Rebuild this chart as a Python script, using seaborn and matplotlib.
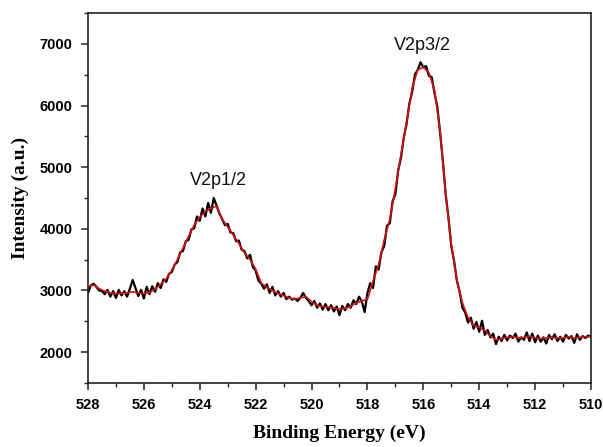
import numpy as np
import pandas as pd
import matplotlib
matplotlib.use("Agg")
import matplotlib.pyplot as plt
from matplotlib.ticker import MultipleLocator
import seaborn as sns

# V 2p core-level spectrum: raw counts (0.1 eV step) and fitted envelope (0.2 eV step)
raw_start, raw_stop, raw_step = 528.0, 510.0, 0.1
fit_start, fit_stop, fit_step = 528.0, 510.0, 0.2

raw_counts = [
    2960, 3080, 3110, 3060, 3000, 2990, 2940, 3010, 2900, 2990,
    2880, 3010, 2920, 2990, 2900, 3030, 3170, 3040, 2910, 3010,
    2870, 3060, 2940, 3070, 2980, 3120, 3040, 3180, 3140, 3270,
    3300, 3420, 3460, 3620, 3640, 3800, 3820, 3990, 4010, 4200,
    4130, 4330, 4200, 4420, 4260, 4500, 4380, 4250, 4160, 4060,
    4080, 3940, 3930, 3800, 3810, 3660, 3640, 3520, 3580, 3380,
    3320, 3160, 3110, 3030, 3100, 2960, 3060, 2920, 2990, 2900,
    2960, 2860, 2900, 2850, 2870, 2830, 2880, 2960, 2880, 2830,
    2760, 2830, 2720, 2790, 2690, 2780, 2680, 2760, 2660, 2740,
    2600, 2750, 2680, 2780, 2720, 2840, 2780, 2900, 2820, 2650,
    2960, 3120, 3040, 3390, 3340, 3620, 3720, 4050, 4090, 4450,
    4560, 4950, 5150, 5480, 5700, 6030, 6220, 6500, 6580, 6700,
    6620, 6640, 6480, 6460, 6200, 5980, 5560, 5100, 4560, 4180,
    3720, 3480, 3160, 2980, 2720, 2640, 2480, 2560, 2380, 2490,
    2330, 2510, 2280, 2360, 2240, 2300, 2130, 2250, 2180, 2280,
    2190, 2270, 2230, 2300, 2170, 2240, 2200, 2320, 2180, 2300,
    2160, 2270, 2170, 2240, 2140, 2280, 2210, 2290, 2180, 2250,
    2170, 2280, 2220, 2260, 2150, 2290, 2200, 2260, 2230, 2270,
    2250,
]

fit_counts = [
    3060, 3090, 3030, 2990, 2960, 2950, 2950, 2960, 2980, 2960,
    2950, 2970, 3020, 3100, 3190, 3330, 3500, 3690, 3880, 4060,
    4190, 4280, 4330, 4370, 4160, 4030, 3900, 3760, 3610, 3500,
    3350, 3120, 3050, 3000, 2950, 2920, 2880, 2860, 2880, 2900,
    2820, 2760, 2740, 2730, 2720, 2700, 2710, 2740, 2800, 2830,
    2860, 3150, 3420, 3820, 4150, 4650, 5200, 5730, 6280, 6580,
    6620, 6530, 6250, 5580, 4560, 3750, 3170, 2800, 2560, 2430,
    2400, 2350, 2260, 2200, 2220, 2240, 2250, 2230, 2240, 2260,
    2230, 2220, 2230, 2240, 2230, 2230, 2250, 2230, 2240, 2250,
    2250,
]

peak_names = ["V2p1/2", "V2p3/2"]
peak_label_energy = [523.35, 516.05]
peak_label_counts = [4790, 6970]

x_ticks = [528, 526, 524, 522, 520, 518, 516, 514, 512, 510]
y_ticks = [2000, 3000, 4000, 5000, 6000, 7000]

raw_energy = np.round(np.linspace(raw_start, raw_stop, len(raw_counts)), 2)
fit_energy = np.round(np.linspace(fit_start, fit_stop, len(fit_counts)), 2)
raw_df = pd.DataFrame({"energy": raw_energy, "counts": raw_counts})
fit_df = pd.DataFrame({"energy": fit_energy, "counts": fit_counts})

sns.set_style("ticks")
plt.rcParams["font.family"] = ["Liberation Sans", "DejaVu Sans"]
plt.rcParams["text.color"] = "black"
plt.rcParams["axes.labelcolor"] = "black"
plt.rcParams["xtick.color"] = "black"
plt.rcParams["ytick.color"] = "black"

fig = plt.figure(figsize=(6.03, 4.47), dpi=100)
ax = fig.add_axes([0.1459, 0.1432, 0.8342, 0.8277])

sns.lineplot(data=raw_df, x="energy", y="counts", color="black", lw=1.6,
             estimator=None, sort=False, ax=ax)
sns.lineplot(data=fit_df, x="energy", y="counts", color="#d41414", lw=1.2,
             estimator=None, sort=False, ax=ax)

ax.set_xlim(528, 510)
ax.set_ylim(1500, 7500)
ax.set_xticks(x_ticks)
ax.set_yticks(y_ticks)
ax.xaxis.set_minor_locator(MultipleLocator(1))
ax.yaxis.set_minor_locator(MultipleLocator(500))

for side in ax.spines.values():
    side.set_linewidth(1.2)
    side.set_color("#222222")

ax.tick_params(which="major", direction="out", length=5, width=1.1,
               color="#222222", labelcolor="black", labelsize=10.5, pad=6)
ax.tick_params(which="minor", direction="out", length=3, width=1.0,
               color="#222222")
for lab in ax.get_xticklabels() + ax.get_yticklabels():
    lab.set_fontweight("bold")

ax.set_xlabel("Binding Energy (eV)", fontsize=14, fontweight="bold",
              family=["Liberation Serif", "DejaVu Serif"], labelpad=9)
ax.set_ylabel("Intensity (a.u.)", fontsize=14, fontweight="bold",
              family=["Liberation Serif", "DejaVu Serif"], labelpad=8)

for name, ex, ey in zip(peak_names, peak_label_energy, peak_label_counts):
    ax.text(ex, ey, name, fontsize=13, ha="center", va="center", color="#111111")

fig.savefig("out.png", dpi=100)
